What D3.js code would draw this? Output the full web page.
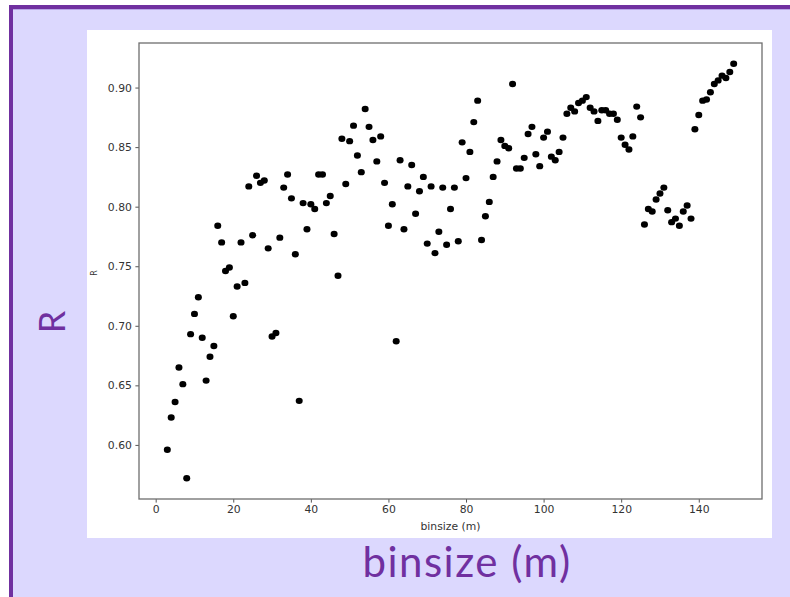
<!DOCTYPE html>
<html>
<head>
<meta charset="utf-8">
<script src="https://cdn.jsdelivr.net/npm/d3@7"></script>
<style>
  html, body { margin: 0; padding: 0; background: #fff; }
  svg { display: block; }
</style>
</head>
<body>
<svg id="chart" width="790" height="597"></svg>
<script>
// Correlation R against bin size
const binsize = [
  3, 4, 5, 6, 7, 8, 9, 10, 11, 12, 13, 14, 15, 16, 17, 18, 19, 20, 21, 22,
  23, 24, 25, 26, 27, 28, 29, 30, 31, 32, 33, 34, 35, 36, 37, 38, 39, 40, 41, 42,
  43, 44, 45, 46, 47, 48, 49, 50, 51, 52, 53, 54, 55, 56, 57, 58, 59, 60, 61, 62,
  63, 64, 65, 66, 67, 68, 69, 70, 71, 72, 73, 74, 75, 76, 77, 78, 79, 80, 81, 82,
  83, 84, 85, 86, 87, 88, 89, 90, 91, 92, 93, 94, 95, 96, 97, 98, 99, 100, 101, 102,
  103, 104, 105, 106, 107, 108, 109, 110, 111, 112, 113, 114, 115, 116, 117, 118, 119, 120, 121, 122,
  123, 124, 125, 126, 127, 128, 129, 130, 131, 132, 133, 134, 135, 136, 137, 138, 139, 140, 141, 142,
  143, 144, 145, 146, 147, 148, 149
];
const rValues = [
  0.596, 0.623, 0.636, 0.665, 0.651, 0.572, 0.693, 0.710, 0.724, 0.690, 0.654, 0.674, 0.683, 0.784, 0.770, 0.746, 0.749, 0.708, 0.733, 0.770,
  0.736, 0.817, 0.776, 0.826, 0.820, 0.822, 0.765, 0.691, 0.694, 0.774, 0.816, 0.827, 0.807, 0.760, 0.637, 0.803, 0.781, 0.802, 0.798, 0.827,
  0.827, 0.803, 0.809, 0.777, 0.742, 0.857, 0.819, 0.855, 0.868, 0.843, 0.829, 0.882, 0.867, 0.856, 0.838, 0.859, 0.820, 0.784, 0.802, 0.687,
  0.839, 0.781, 0.817, 0.835, 0.794, 0.813, 0.825, 0.769, 0.817, 0.761, 0.779, 0.816, 0.768, 0.798, 0.816, 0.771, 0.854, 0.824, 0.846, 0.871,
  0.889, 0.772, 0.792, 0.804, 0.825, 0.838, 0.856, 0.851, 0.849, 0.903, 0.832, 0.832, 0.841, 0.861, 0.867, 0.844, 0.834, 0.858, 0.863, 0.842,
  0.839, 0.846, 0.858, 0.878, 0.883, 0.880, 0.887, 0.889, 0.892, 0.883, 0.880, 0.872, 0.881, 0.881, 0.878, 0.878, 0.873, 0.858, 0.852, 0.848,
  0.859, 0.884, 0.875, 0.785, 0.798, 0.796, 0.806, 0.811, 0.816, 0.797, 0.787, 0.790, 0.784, 0.796, 0.801, 0.790, 0.865, 0.877, 0.889, 0.890,
  0.896, 0.903, 0.906, 0.910, 0.908, 0.913, 0.920
];
const xTicks = [0, 20, 40, 60, 80, 100, 120, 140];
const yTicks = [0.60, 0.65, 0.70, 0.75, 0.80, 0.85, 0.90];
const xLabel = "binsize (m)";
const yLabel = "R";

const points = binsize.map((b, i) => ({ b, r: rValues[i] }));

const svg = d3.select("#chart");
const purple = "#7030a0";
const lavender = "#dcd8fe";

// slide backdrop with the purple frame on top and left
svg.append("rect").attr("x", 9).attr("y", 5).attr("width", 781).attr("height", 592).attr("fill", lavender);
svg.append("rect").attr("x", 9).attr("y", 5).attr("width", 781).attr("height", 4).attr("fill", purple);
svg.append("rect").attr("x", 9).attr("y", 5).attr("width", 4).attr("height", 592).attr("fill", purple);
svg.append("rect").attr("x", 13).attr("y", 9).attr("width", 777).attr("height", 1).attr("fill", "#b9a6e6");

// white figure panel
svg.append("rect").attr("x", 87).attr("y", 30).attr("width", 685).attr("height", 508).attr("fill", "#fff");

const plot = { left: 139, right: 762, top: 43, bottom: 499 };

// axis limits padded by 5% of the data span
const pad = (ext) => { const s = ext[1] - ext[0]; return [ext[0] - 0.05 * s, ext[1] + 0.05 * s]; };
const x = d3.scaleLinear().domain(pad(d3.extent(binsize))).range([plot.left, plot.right]);
const y = d3.scaleLinear().domain(pad(d3.extent(rValues))).range([plot.bottom, plot.top]);

const tickFont = "DejaVu Sans, sans-serif";

const gx = svg.append("g").attr("transform", `translate(0,${plot.bottom})`)
  .call(d3.axisBottom(x).tickValues(xTicks).tickSize(3.6).tickPadding(3).tickFormat(d3.format("d")));
const gy = svg.append("g").attr("transform", `translate(${plot.left},0)`)
  .call(d3.axisLeft(y).tickValues(yTicks).tickSize(3.6).tickPadding(3.5).tickFormat(d3.format(".2f")));

[gx, gy].forEach(g => {
  g.select(".domain").remove();
  g.selectAll(".tick line").attr("stroke", "#555").attr("stroke-width", 1);
  g.selectAll(".tick text").attr("fill", "#333").style("font-family", tickFont).style("font-size", "10.8px");
});

// axes frame
svg.append("rect")
  .attr("x", plot.left).attr("y", plot.top)
  .attr("width", plot.right - plot.left).attr("height", plot.bottom - plot.top)
  .attr("fill", "none").attr("stroke", "#6e6e6e").attr("stroke-width", 1.3);

// scatter points
svg.append("g").selectAll("ellipse").data(points).join("ellipse")
  .attr("cx", d => x(d.b)).attr("cy", d => y(d.r))
  .attr("rx", 3.5).attr("ry", 3.2)
  .attr("fill", "#000");

// small axis titles
svg.append("text")
  .attr("x", (plot.left + plot.right) / 2).attr("y", 530)
  .attr("text-anchor", "middle")
  .style("font-family", tickFont).style("font-size", "10.8px").attr("fill", "#333")
  .text(xLabel);
svg.append("text")
  .attr("transform", `translate(97,273) rotate(-90)`)
  .attr("text-anchor", "middle")
  .style("font-family", tickFont).style("font-size", "8px").attr("fill", "#333")
  .text(yLabel);

// large slide labels
svg.append("text")
  .attr("x", 467).attr("y", 577)
  .attr("text-anchor", "middle")
  .style("font-family", "Lato, sans-serif").style("font-size", "42px")
  .style("letter-spacing", "1.5px").attr("fill", purple)
  .text(xLabel);
svg.append("text")
  .attr("transform", `translate(65,322) rotate(-90)`)
  .attr("text-anchor", "middle")
  .style("font-family", "Lato, sans-serif").style("font-size", "36px").attr("fill", purple)
  .text(yLabel);
</script>
</body>
</html>
